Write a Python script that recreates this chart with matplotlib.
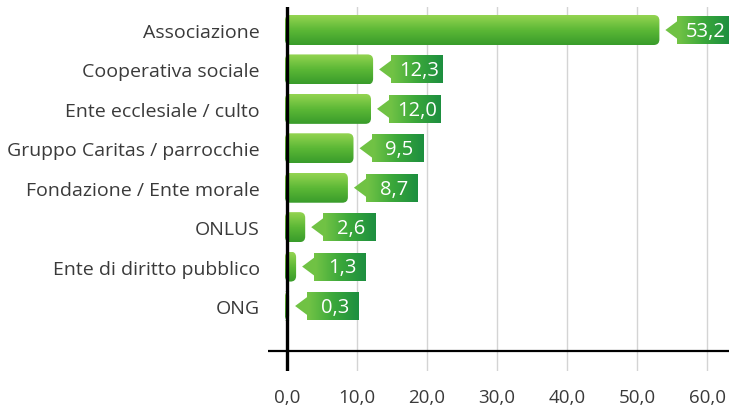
import numpy as np
import matplotlib
matplotlib.use("Agg")
import matplotlib.pyplot as plt
from matplotlib.colors import LinearSegmentedColormap
from matplotlib.patches import FancyBboxPatch, Polygon

# Data
categories = ["Associazione", "Cooperativa sociale", "Ente ecclesiale / culto",
              "Gruppo Caritas / parrocchie", "Fondazione / Ente morale",
              "ONLUS", "Ente di diritto pubblico", "ONG"]
values = [53.2, 12.3, 12.0, 9.5, 8.7, 2.6, 1.3, 0.3]
x_ticks = [0, 10, 20, 30, 40, 50, 60]

plt.rcParams['font.family'] = ['Open Sans', 'DejaVu Sans']

W, H = 729, 406
fig = plt.figure(figsize=(W / 100, H / 100), dpi=100)
ax = fig.add_axes([268 / W, (H - 372) / H, 461 / W, 364 / H])

px_x = 7.0     # pixels per unit on x
px_y = 39.43   # pixels per row
xlim = (-19 / px_x, 442 / px_x)
ylim = ((372 - 31) / px_y, (8 - 31) / px_y)

bar_cmap = LinearSegmentedColormap.from_list("bar", ["#94d451", "#5cb836", "#399c2b"])
tag_cmap = LinearSegmentedColormap.from_list("tag", ["#74c446", "#3ba83a", "#1d8f40"])

bar_h = 30 / px_y
tag_w = 52 / px_x
tag_h = 28 / px_y
arrow_len = 12 / px_x
gap = 6 / px_x

# grid
for t in x_ticks[1:]:
    ax.axvline(t, color="#d4d4d4", lw=1, zorder=0)

vgrad = np.linspace(0, 1, 64).reshape(-1, 1)
hgrad = np.linspace(0, 1, 64).reshape(1, -1)

for i, (cat, v) in enumerate(zip(categories, values)):
    # bar with vertical gradient
    patch = FancyBboxPatch((-0.3, i - bar_h / 2), v + 0.3, bar_h,
                           boxstyle="round,pad=0,rounding_size=0.8",
                           mutation_aspect=px_x / px_y,
                           fc="none", ec="none", zorder=2)
    ax.add_patch(patch)
    im = ax.imshow(vgrad, cmap=bar_cmap, aspect="auto", origin="upper",
                   extent=[-0.3, v, i + bar_h / 2, i - bar_h / 2], zorder=2)
    im.set_clip_path(patch)

    # callout tag
    tip = v + gap
    x0 = tip + arrow_len
    box = FancyBboxPatch((x0, i - tag_h / 2), tag_w, tag_h,
                         boxstyle="round,pad=0,rounding_size=0.7",
                         mutation_aspect=px_x / px_y,
                         fc="none", ec="none", zorder=3, clip_on=False)
    ax.add_patch(box)
    im2 = ax.imshow(hgrad, cmap=tag_cmap, aspect="auto",
                    extent=[x0, x0 + tag_w, i + tag_h / 2, i - tag_h / 2],
                    zorder=3, clip_on=False)
    im2.set_clip_path(box)
    tri = Polygon([[tip, i], [x0 + 0.4, i - 11 / px_y], [x0 + 0.4, i + 11 / px_y]],
                  closed=True, fc="#70c244", ec="none", zorder=3, clip_on=False)
    ax.add_patch(tri)
    label = f"{v:.1f}".replace(".", ",")
    ax.text(x0 + tag_w / 2 + 0.3, i + 0.02, label, color="white", fontsize=14.5,
            ha="center", va="center", zorder=4, clip_on=False)

ax.set_xlim(*xlim)
ax.set_ylim(*ylim)

# axis lines
ax.axhline((352 - 31) / px_y, color="black", lw=1.6, zorder=5)
ax.axvline(0, color="black", lw=2.4, zorder=5)

ax.set_yticks(range(len(categories)))
ax.set_yticklabels(categories, fontsize=14)
ax.set_xticks(x_ticks)
ax.set_xticklabels([f"{t:.1f}".replace(".", ",") for t in x_ticks], fontsize=13.5)
ax.tick_params(axis="both", length=0, colors="#3a3a3a")
ax.tick_params(axis="x", pad=12)
ax.tick_params(axis="y", pad=6)
for s in ax.spines.values():
    s.set_visible(False)

fig.savefig("out.png", dpi=100)
